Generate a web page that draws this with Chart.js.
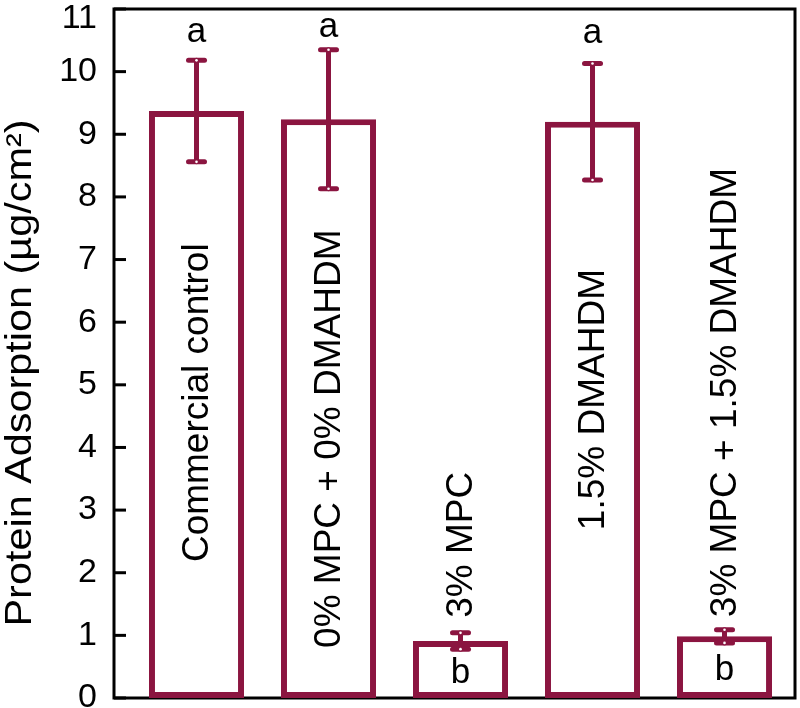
<!DOCTYPE html>
<html><head><meta charset="utf-8">
<script src="https://cdn.jsdelivr.net/npm/chart.js@4/dist/chart.umd.min.js"></script>
<style>html,body{margin:0;padding:0;background:#fff}#wrap{width:800px;height:708px;position:relative}</style>
</head><body><div id="wrap"><canvas id="c"></canvas></div>
<script>
// ---- data ----
const categories = ['Commercial control', '0% MPC + 0% DMAHDM', '3% MPC', '1.5% DMAHDM', '3% MPC + 1.5% DMAHDM'];
const means = [9.37, 9.24, 0.91, 9.20, 0.985];
const errors = [0.81, 1.11, 0.13, 0.93, 0.105];
const letters = ['a', 'a', 'b', 'a', 'b'];
const yTitle = 'Protein Adsorption (\u00b5g/cm\u00b2)';
const yMin = 0, yMax = 11, yStep = 1;

// ---- layout / style (not data) ----
const RED = '#8b1540';
const FONT = '"Liberation Sans", Arial, sans-serif';
const labelBottomVals = [2.17, 0.80, 1.28, 2.68, 1.29];   // where rotated labels start
const letterBaselineVals = [10.47, 10.55, 0.24, 10.46, 0.29];

const decor = {
  id: 'decor',
  beforeDatasetsDraw(chart) {
    const {ctx, chartArea: a, scales: {y}} = chart;
    ctx.save();
    // frame
    ctx.strokeStyle = '#000'; ctx.lineWidth = 3;
    ctx.strokeRect(a.left, a.top, a.right - a.left, a.bottom - a.top);
    // inward ticks + labels
    ctx.fillStyle = '#000';
    ctx.font = '34px ' + FONT;
    ctx.textAlign = 'right'; ctx.textBaseline = 'middle';
    y.ticks.forEach(t => {
      const py = y.getPixelForValue(t.value);
      ctx.beginPath(); ctx.moveTo(a.left, py); ctx.lineTo(a.left + 12, py); ctx.stroke();
      ctx.fillText(String(t.value), 97, Math.max(py, a.top + 10));
    });
    // y title
    ctx.save();
    ctx.translate(21, 373); ctx.rotate(-Math.PI / 2); ctx.scale(1.15, 1);
    ctx.font = '36px ' + FONT; ctx.textAlign = 'center'; ctx.textBaseline = 'middle';
    ctx.fillText(yTitle, 0, 0);
    ctx.restore();
    ctx.restore();
  },
  afterDatasetsDraw(chart) {
    const {ctx, scales: {y}} = chart;
    const meta = chart.getDatasetMeta(0);
    ctx.save();
    meta.data.forEach((bar, i) => {
      const x = bar.x;
      const yt = y.getPixelForValue(means[i] + errors[i]);
      const yb = y.getPixelForValue(means[i] - errors[i]);
      ctx.strokeStyle = RED; ctx.lineWidth = 5; ctx.lineCap = 'round';
      ctx.beginPath(); ctx.moveTo(x, yt); ctx.lineTo(x, yb); ctx.stroke();
      [yt, yb].forEach(py => {
        ctx.beginPath(); ctx.moveTo(x - 8, py); ctx.lineTo(x + 8, py); ctx.stroke();
        ctx.fillStyle = '#fff';
        ctx.beginPath(); ctx.arc(x, py, 1.3, 0, Math.PI * 2); ctx.fill();
      });
      // rotated category labels
      ctx.save();
      ctx.fillStyle = '#000';
      ctx.translate(x + 1, y.getPixelForValue(labelBottomVals[i]));
      ctx.rotate(-Math.PI / 2);
      ctx.font = '37px ' + FONT; ctx.textAlign = 'left'; ctx.textBaseline = 'middle';
      ctx.fillText(categories[i], 0, 0);
      ctx.restore();
      // significance letters
      ctx.fillStyle = '#000';
      ctx.font = '35px ' + FONT; ctx.textAlign = 'center'; ctx.textBaseline = 'alphabetic';
      ctx.fillText(letters[i], x, y.getPixelForValue(letterBaselineVals[i]));
    });
    ctx.restore();
  }
};

new Chart(document.getElementById('c'), {
  type: 'bar',
  data: {
    datasets: [{
      data: categories.map((c, i) => ({x: i, y: means[i]})),
      backgroundColor: '#ffffff',
      borderColor: RED,
      borderWidth: 6,
      borderSkipped: false,
      barPercentage: 0.72,
      categoryPercentage: 1
    }]
  },
  options: {
    responsive: true,
    maintainAspectRatio: false,
    animation: false,
    layout: {padding: {top: 9, right: 5, bottom: 10, left: 0}},
    plugins: {legend: {display: false}, tooltip: {enabled: false}},
    scales: {
      x: {
        type: 'linear', min: -0.625, max: 4.534, offset: false, display: false,
        afterBuildTicks(s) { s.ticks = categories.map((c, i) => ({value: i})); }
      },
      y: {
        min: yMin, max: yMax,
        ticks: {stepSize: yStep, display: false},
        grid: {display: false},
        border: {display: false},
        afterFit(s) { s.width = 114; s.paddingTop = 0; s.paddingBottom = 0; }
      }
    }
  },
  plugins: [decor]
});
</script>
</body></html>
